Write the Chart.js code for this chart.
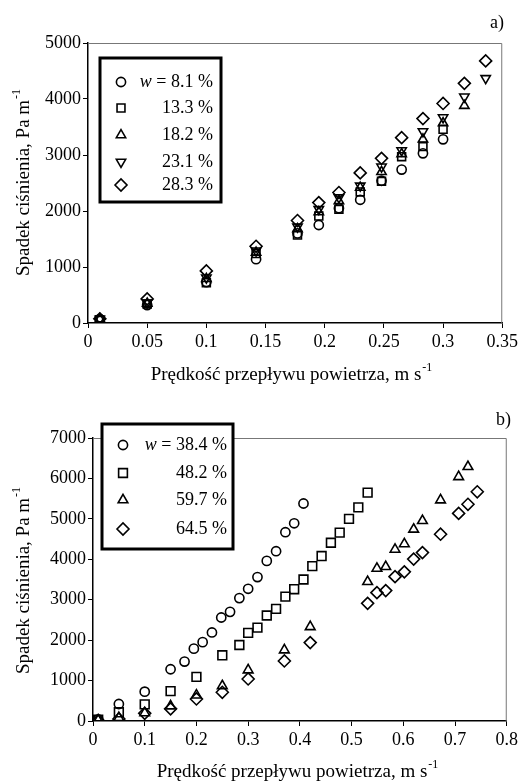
<!DOCTYPE html>
<html>
<head>
<meta charset="utf-8">
<script src="https://cdn.jsdelivr.net/npm/chart.js@4.4.1/dist/chart.umd.min.js"></script>
<style>
    body { margin: 0; background: #fff; }
    .panel { position: absolute; left: 0; width: 521px; }
</style>
</head>
<body>
<div class="panel" style="top:0;height:390px"><canvas id="chartA" width="521" height="390"></canvas></div>
<div class="panel" style="top:390px;height:393px"><canvas id="chartB" width="521" height="393"></canvas></div>
<script>
'use strict';

// a) air velocity, m/s
var xA = [0.01, 0.05, 0.1, 0.142, 0.177, 0.195, 0.212, 0.23, 0.248, 0.265, 0.283, 0.30, 0.318, 0.336];
var labelsA = ['8.1', '13.3', '18.2', '23.1', '28.3'];
var w81 = [70, 320, 730, 1140, 1600, 1750, 2050, 2200, 2540, 2740, 3030, 3280];
var w133 = [60, 340, 720, 1240, 1570, 1910, 2030, 2340, 2530, 2970, 3150, 3460];
var w182 = [70, 350, 790, 1260, 1680, 1980, 2180, 2420, 2700, 3020, 3280, 3570, 3880];
var w231 = [70, 360, 810, 1290, 1720, 2030, 2240, 2450, 2790, 3080, 3420, 3670, 4040, 4370];
var w283 = [75, 430, 930, 1370, 1830, 2150, 2330, 2680, 2940, 3310, 3650, 3920, 4280, 4680];
var ticksXA = [0, 0.05, 0.1, 0.15, 0.2, 0.25, 0.3, 0.35];
var ticksYA = [0, 1000, 2000, 3000, 4000, 5000];

// b)
var labelsB = ['38.4', '48.2', '59.7', '64.5'];
var x384 = [0.01, 0.05, 0.1, 0.15, 0.177, 0.195, 0.212, 0.23, 0.248, 0.265, 0.283, 0.30, 0.318, 0.336, 0.354, 0.372, 0.389, 0.407];
var w384 = [40, 420, 725, 1280, 1470, 1790, 1950, 2190, 2560, 2700, 3040, 3270, 3560, 3960, 4200, 4670, 4890, 5380];
var x482 = [0.01, 0.05, 0.1, 0.15, 0.2, 0.25, 0.283, 0.30, 0.318, 0.336, 0.354, 0.372, 0.389, 0.407, 0.424, 0.442, 0.46, 0.477, 0.495, 0.513, 0.531];
var w482 = [30, 215, 410, 740, 1090, 1625, 1880, 2180, 2310, 2610, 2775, 3075, 3260, 3500, 3830, 4080, 4410, 4660, 5000, 5285, 5650];
var x597 = [0.01, 0.05, 0.1, 0.15, 0.2, 0.25, 0.3, 0.37, 0.42, 0.531, 0.549, 0.566, 0.584, 0.602, 0.62, 0.637, 0.672, 0.707, 0.725];
var w597 = [20, 80, 200, 370, 640, 870, 1260, 1755, 2330, 3445, 3775, 3815, 4245, 4380, 4740, 4955, 5465, 6040, 6290];
var x645 = [0.01, 0.05, 0.1, 0.15, 0.2, 0.25, 0.3, 0.37, 0.42, 0.531, 0.549, 0.566, 0.584, 0.602, 0.62, 0.637, 0.672, 0.707, 0.725, 0.743];
var w645 = [10, 50, 190, 300, 545, 710, 1040, 1485, 1940, 2910, 3175, 3225, 3570, 3690, 4005, 4165, 4620, 5135, 5360, 5670];
var ticksXB = [0, 0.1, 0.2, 0.3, 0.4, 0.5, 0.6, 0.7, 0.8];
var ticksYB = [0, 1000, 2000, 3000, 4000, 5000, 6000, 7000];

var FONT = '"Liberation Serif", "Times New Roman", serif';

function pts(xs, ys) {
    return ys.map(function (y, i) { return {x: xs[i], y: y}; });
}

function series(label, data, style, radius, rotation) {
    return {
        label: label,
        data: data,
        pointStyle: style,
        pointRadius: radius,
        pointHoverRadius: radius,
        rotation: rotation || 0,
        pointBorderWidth: 1.6,
        borderColor: '#000',
        backgroundColor: 'rgba(0,0,0,0)',
        showLine: false
    };
}

// text with a superscript tail, centred on (x, y)
function supText(ctx, main, sup, x, y, size) {
    ctx.font = size + 'px ' + FONT;
    var w1 = ctx.measureText(main).width;
    ctx.font = Math.round(size * 0.62) + 'px ' + FONT;
    var w2 = ctx.measureText(sup).width;
    var x0 = x - (w1 + w2) / 2;
    ctx.textAlign = 'left';
    ctx.textBaseline = 'middle';
    ctx.font = size + 'px ' + FONT;
    ctx.fillText(main, x0, y);
    ctx.font = Math.round(size * 0.62) + 'px ' + FONT;
    ctx.fillText(sup, x0 + w1 + 1, y - size * 0.4);
}

var decor = {
    id: 'decor',
    afterDraw: function (chart, args, o) {
        var ctx = chart.ctx, a = chart.chartArea;
        ctx.save();
        ctx.fillStyle = '#000';

        // grey frame on top and right
        ctx.strokeStyle = '#777';
        ctx.lineWidth = 1;
        ctx.beginPath();
        ctx.moveTo(a.left, a.top + 0.5);
        ctx.lineTo(a.right - 0.5, a.top + 0.5);
        ctx.lineTo(a.right - 0.5, a.bottom);
        ctx.stroke();

        // axis titles
        supText(ctx, 'Prędkość przepływu powietrza, m s', '-1', o.xTitle[0], o.xTitle[1], 19);
        ctx.save();
        ctx.translate(o.yTitle[0], o.yTitle[1]);
        ctx.rotate(-Math.PI / 2);
        supText(ctx, 'Spadek ciśnienia, Pa m', '-1', 0, 0, 19);
        ctx.restore();

        // panel letter
        ctx.font = '18px ' + FONT;
        ctx.textAlign = 'right';
        ctx.textBaseline = 'middle';
        ctx.fillText(o.letter, o.letterPos[0], o.letterPos[1]);

        // legend box
        var b = o.box;
        ctx.fillStyle = '#fff';
        ctx.fillRect(b[0], b[1], b[2], b[3]);
        ctx.strokeStyle = '#000';
        ctx.lineWidth = 3;
        ctx.strokeRect(b[0], b[1], b[2], b[3]);
        ctx.fillStyle = '#000';
        chart.data.datasets.forEach(function (ds, i) {
            var y = o.rows[i];
            ctx.lineWidth = 1.6;
            ctx.strokeStyle = '#000';
            ctx.fillStyle = 'rgba(0,0,0,0)';
            Chart.helpers.drawPoint(ctx, {
                pointStyle: ds.pointStyle,
                rotation: ds.rotation,
                radius: ds.pointRadius,
                borderWidth: 1.6
            }, o.markX, y);
            ctx.fillStyle = '#000';
            ctx.textBaseline = 'middle';
            ctx.textAlign = 'right';
            ctx.font = '18px ' + FONT;
            var txt = ds.label + ' %';
            if (i === 0) {
                txt = ' = ' + txt;
                ctx.fillText(txt, o.textX, y);
                var tw = ctx.measureText(txt).width;
                ctx.font = 'italic 18px ' + FONT;
                ctx.fillText('w', o.textX - tw, y);
            } else {
                ctx.fillText(txt, o.textX, y);
            }
        });
        ctx.restore();
    }
};

function numLabel(v) {
    return String(Math.round(v * 1000) / 1000);
}

function makeChart(id, datasets, xMax, xStep, yMax, pad, yW, xH, dec) {
    return new Chart(document.getElementById(id), {
        type: 'scatter',
        data: {datasets: datasets},
        plugins: [decor],
        options: {
            responsive: false,
            animation: false,
            layout: {padding: pad},
            plugins: {legend: {display: false}, tooltip: {enabled: false}, decor: dec},
            scales: {
                x: {
                    type: 'linear', min: 0, max: xMax,
                    afterFit: function (s) { s.height = xH; },
                    border: {color: '#000', width: 1.5},
                    grid: {drawOnChartArea: false, drawTicks: true, tickLength: 5, color: '#000'},
                    ticks: {stepSize: xStep, color: '#000', padding: 3, maxRotation: 0,
                        font: {family: FONT, size: 18}, callback: numLabel}
                },
                y: {
                    type: 'linear', min: 0, max: yMax,
                    afterFit: function (s) { s.width = yW; },
                    border: {color: '#000', width: 1.5},
                    grid: {drawOnChartArea: false, drawTicks: true, tickLength: 5, color: '#000'},
                    ticks: {stepSize: 1000, color: '#000', padding: 2,
                        font: {family: FONT, size: 18}, callback: function (v) { return String(v); }}
                }
            }
        }
    });
}

makeChart('chartA', [
    series(labelsA[0], pts(xA, w81), 'circle', 4.6),
    series(labelsA[1], pts(xA, w133), 'rect', 5.6),
    series(labelsA[2], pts(xA, w182), 'triangle', 5.4),
    series(labelsA[3], pts(xA, w231), 'triangle', 5.4, 180),
    series(labelsA[4], pts(xA, w283), 'rectRot', 6)
], ticksXA[ticksXA.length - 1], ticksXA[1], ticksYA[ticksYA.length - 1],
    {left: 0, right: 18, top: 43, bottom: 0}, 88, 67,
    {xTitle: [291, 375], yTitle: [24, 183], letter: 'a)', letterPos: [504, 23],
        box: [100, 58, 121, 144], rows: [82, 108, 135, 162, 185], markX: 121, textX: 213});

makeChart('chartB', [
    series(labelsB[0], pts(x384, w384), 'circle', 4.6),
    series(labelsB[1], pts(x482, w482), 'rect', 6.2),
    series(labelsB[2], pts(x597, w597), 'triangle', 5.6),
    series(labelsB[3], pts(x645, w645), 'rectRot', 6)
], ticksXB[ticksXB.length - 1], ticksXB[1], ticksYB[ticksYB.length - 1],
    {left: 0, right: 11, top: 48, bottom: 0}, 93, 62,
    {xTitle: [297, 382], yTitle: [24, 191], letter: 'b)', letterPos: [511, 30],
        box: [102, 34, 131, 125], rows: [55, 83, 110, 139], markX: 123, textX: 227});
</script>
</body>
</html>
